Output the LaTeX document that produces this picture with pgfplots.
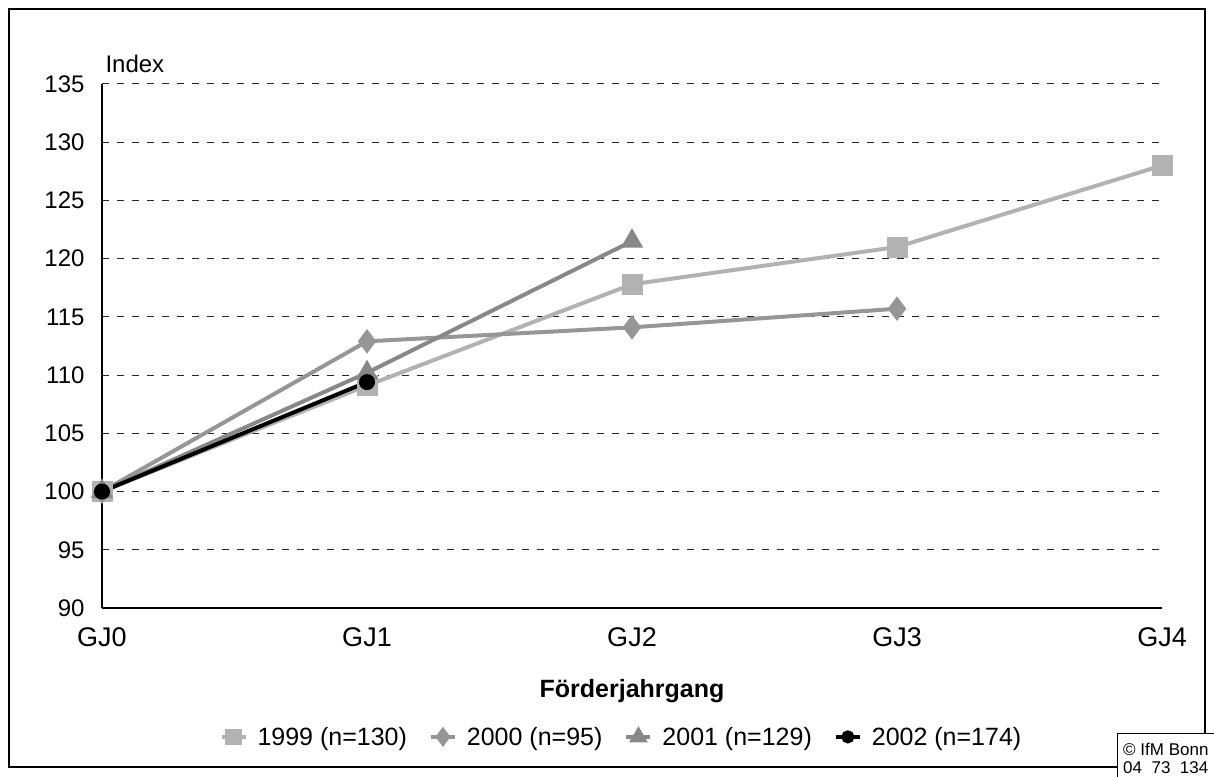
\documentclass[border=0pt]{standalone}
\usepackage{pgfplots}
\pgfplotsset{compat=1.18}
\usepackage{fontspec}
\setmainfont{Liberation Sans}

\definecolor{cA}{RGB}{178,178,178}
\definecolor{cB}{RGB}{150,150,150}
\definecolor{cC}{RGB}{136,136,136}

\begin{document}
\begin{tikzpicture}[x=1pt,y=1pt]
\useasboundingbox (0,0) rectangle (1214,776);
\draw[line width=1.5pt] (9,9) rectangle (1205,767);
\begin{axis}[
  at={(102pt,168pt)}, anchor=south west,
  scale only axis, width=1060pt, height=524pt,
  xmin=0, xmax=4, ymin=90, ymax=135,
  xtick={0,1,2,3,4}, xticklabels={GJ0,GJ1,GJ2,GJ3,GJ4},
  ytick={90,95,...,135},
  axis x line*=bottom, axis y line*=left,
  axis line style={line width=1.5pt, -},
  major tick length=0pt,
  ymajorgrids,
  grid style={dash pattern=on 7pt off 8pt, line width=1pt, black!85},
  tick label style={font=\fontsize{24}{28}\selectfont},
  xticklabel style={font=\fontsize{27}{30}\selectfont, yshift=-16pt},
  yticklabel style={xshift=-14pt},
  /pgf/number format/assume math mode=true,
  every axis y label/.style={at={(axis description cs:0,1)}, anchor=base west, yshift=11pt, font=\fontsize{24}{28}\selectfont},
  ylabel={Index},
  every axis x label/.style={at={(axis description cs:0.5,-0.170)}, anchor=base, font=\fontsize{25}{28}\selectfont\bfseries},
  xlabel={Förderjahrgang},
  clip=false,
  legend columns=4,
  legend style={at={(axis description cs:0.49,-0.246)}, anchor=center, draw=none, fill=none,
    font=\fontsize{25}{28}\selectfont,
    /tikz/every odd column/.append style={column sep=8pt},
    /tikz/every even column/.append style={column sep=20pt}},
  legend image code/.code={\draw[mark repeat=2,mark phase=2,#1,every mark/.append style={scale=0.75}] plot coordinates {(0pt,0pt) (12pt,0pt) (24pt,0pt)};},
  every axis plot/.append style={line width=4pt},
]
\addplot[color=cA, mark=square*, mark size=8.5pt, mark options={solid}]
  coordinates {(0,100) (1,109.1) (2,117.8) (3,121.0) (4,128.0)};
\addplot[color=cB, mark=diamond*, mark size=9pt, mark options={solid}]
  coordinates {(0,100) (1,112.9) (2,114.1) (3,115.7)};
\addplot[color=cC, mark=triangle*, mark size=9pt, mark options={solid}]
  coordinates {(0,100) (1,110.2) (2,121.5)};
\addplot[color=black, mark=*, mark size=6pt, mark options={solid}]
  coordinates {(0,100) (1,109.4)};
\legend{1999 (n=130), 2000 (n=95), 2001 (n=129), 2002 (n=174)}
\end{axis}
\fill[white] (1117,-1) rectangle (1215,43);
\draw[line width=1pt] (1117,-1) -- (1117,43) -- (1215,43);
\node[anchor=base west, inner sep=0pt, font=\fontsize{17}{18}\selectfont] at (1123,21) {© IfM Bonn};
\node[anchor=base west, inner sep=0pt, font=\fontsize{17}{18}\selectfont] at (1123,3) {04\ \ 73\ \ 134};
\end{tikzpicture}
\end{document}
